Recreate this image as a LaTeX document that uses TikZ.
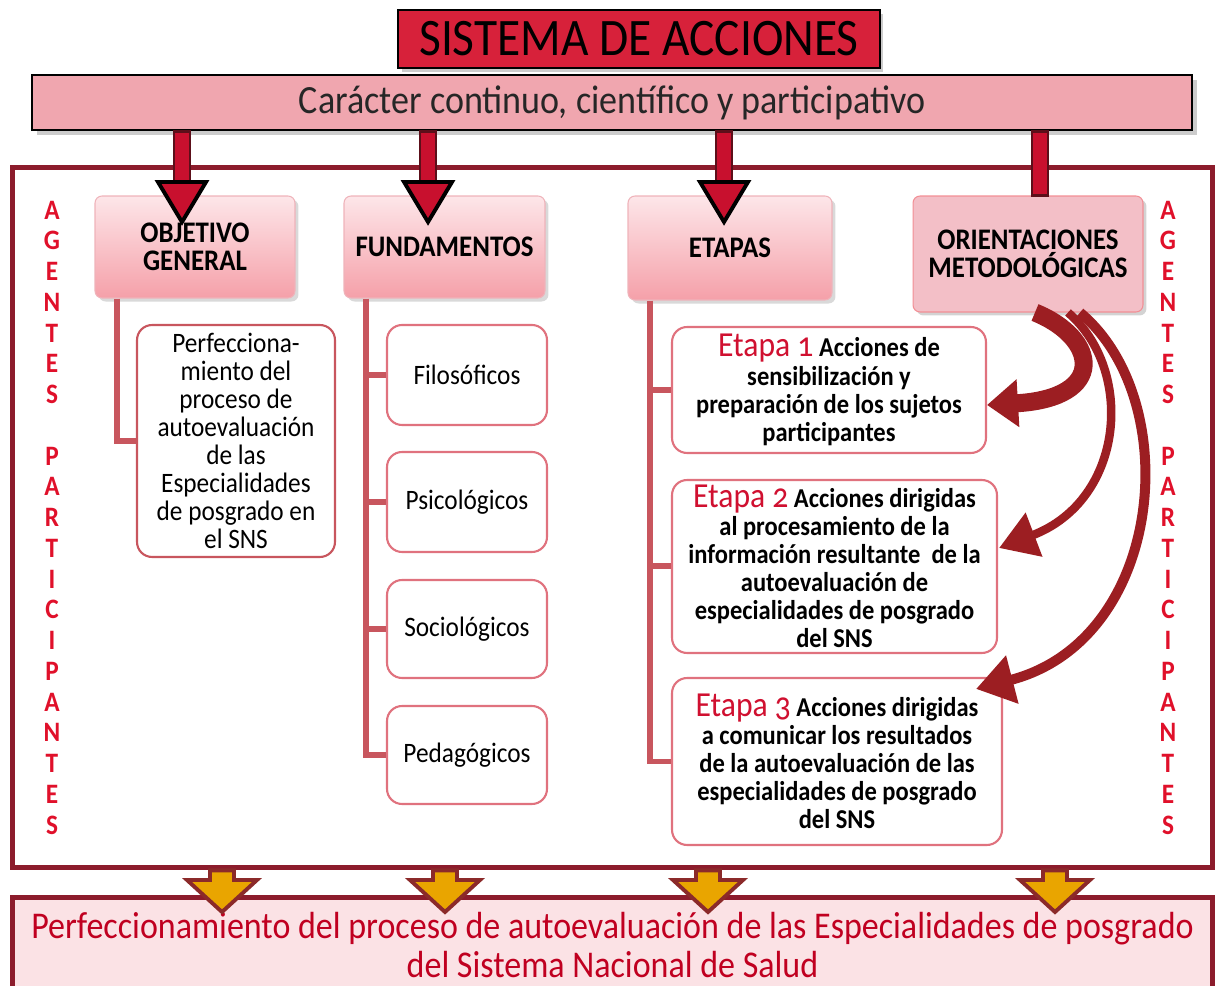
\documentclass[tikz,border=0pt]{standalone}
\usepackage{fontspec}
\setmainfont{Carlito}[FakeStretch=0.9]
\newfontfamily\etpfont{Carlito}[FakeStretch=0.9,Numbers=OldStyle]
\usetikzlibrary{shadows,arrows.meta,calc}
\definecolor{titlered}{HTML}{D7213A}
\definecolor{bandpink}{HTML}{F0A6AF}
\definecolor{maroon}{HTML}{8C1C2C}
\definecolor{hdtop}{HTML}{FDE6E9}
\definecolor{hdbot}{HTML}{F5A0A9}
\definecolor{hdline}{HTML}{EFB3BA}
\definecolor{oripink}{HTML}{F3BFC7}
\definecolor{childline}{HTML}{E0727E}
\definecolor{connred}{HTML}{C8565E}
\definecolor{agred}{HTML}{E0102A}
\definecolor{etred}{HTML}{D01030}
\definecolor{botfill}{HTML}{FBE2E5}
\definecolor{botred}{HTML}{C00020}
\definecolor{curvred}{HTML}{9C1E22}
\definecolor{gold}{HTML}{E9A500}
\definecolor{arrowdark}{HTML}{8B2A2A}
\definecolor{shaftred}{HTML}{C8102E}
\definecolor{shaftedge}{HTML}{5C0F1A}
\newcommand\etlabel[1]{{\etpfont\mdseries\fontsize{20}{16}\selectfont\color{etred}Etapa #1}}
\newcommand\toparrow[2]{%
  \draw[shaft] ($(#1)+(-8,0)$) rectangle ($(#2)+(8,-40)$);
  \draw[tophead] ($(#2)+(-24,-40)$) -- (#2) -- ($(#2)+(24,-40)$) -- cycle;}
\newcommand\botarrow[2]{%
  \draw[botarrow] ($(#1)+(-12,0)$) -- ($(#2)+(-12,-32)$) -- ($(#2)+(-35,-32)$) -- (#2)
     -- ($(#2)+(35,-32)$) -- ($(#2)+(12,-32)$) -- ($(#1)+(12,0)$) -- cycle;}
\begin{document}
\begin{tikzpicture}[x=0.02cm,y=-0.02cm,
  titlebox/.style={fill=titlered,draw=black,line width=1.5pt,inner sep=0pt,
    drop shadow={shadow xshift=2pt,shadow yshift=-2pt,opacity=0.4},
    font=\fontsize{30}{32}\selectfont},
  bandbox/.style={fill=bandpink,draw=black,line width=1.5pt,inner sep=0pt,
    drop shadow={shadow xshift=3pt,shadow yshift=-3pt,opacity=0.4},
    text=black!85,font=\fontsize{22.8}{24}\selectfont},
  headbox/.style={rounded corners=0.14cm,top color=hdtop,bottom color=hdbot,
    draw=hdline,line width=0.6pt,inner sep=0pt,align=center,
    drop shadow={shadow xshift=2pt,shadow yshift=-2pt,opacity=0.3},
    font=\bfseries\fontsize{17}{16}\selectfont},
  oribox/.style={rounded corners=0.14cm,fill=oripink,draw=hdline!80!red,line width=0.6pt,
    inner sep=0pt,align=center,
    drop shadow={shadow xshift=2pt,shadow yshift=-2pt,opacity=0.35},
    font=\bfseries\fontsize{17}{16}\selectfont},
  childbox/.style={rounded corners=0.3cm,fill=white,draw=childline,line width=1.2pt,
    inner sep=0pt,align=center,font=\fontsize{16}{16}\selectfont},
  etbox/.style={childbox,font=\bfseries\fontsize{15.5}{16}\selectfont},
  conn/.style={draw=connred,line width=0.12cm},
  agent/.style={text=agred,font=\bfseries\fontsize{16}{16}\selectfont,inner sep=0pt},
  shaft/.style={fill=shaftred,draw=shaftedge,line width=1.6pt},
  tophead/.style={fill=shaftred,draw=black,line width=2.2pt,line join=miter},
  botarrow/.style={fill=gold,draw=arrowdark,line width=2.2pt,line join=miter},
  curv/.style={draw=curvred,line cap=butt}]
\useasboundingbox (0,0) rectangle (1215,986);

% outer frame
\node[draw=maroon,line width=0.1cm,minimum width=24.02cm,minimum height=14.02cm,inner sep=0pt] (frame) at (612.5,517.5) {};
% bottom result box
\node[fill=botfill,draw=maroon,line width=0.1cm,minimum width=24.02cm,minimum height=1.92cm,inner sep=0pt,
  align=center,text=botred,font=\fontsize{21.5}{22.7}\selectfont] (result) at (612.5,945)
  {Perfeccionamiento del proceso de autoevaluación de las Especialidades de posgrado\\del Sistema Nacional de Salud};

% top
\node[titlebox,minimum width=9.64cm,minimum height=1.16cm] (title) at (639,39) {SISTEMA DE ACCIONES};
\node[bandbox,minimum width=23.2cm,minimum height=1.1cm] (band) at (612,102.5) {Carácter continuo, científico y participativo};

% header boxes
\node[headbox,minimum width=4cm,minimum height=2.04cm] (obj) at (195,247) {OBJETIVO\\GENERAL};
\node[headbox,minimum width=4.02cm,minimum height=2.04cm] (fund) at (444.5,247) {FUNDAMENTOS};
\node[headbox,minimum width=4.08cm,minimum height=2.08cm] (etap) at (730,248) {ETAPAS};
\node[oribox,minimum width=4.6cm,minimum height=2.32cm] (ori) at (1028,254) {ORIENTACIONES\\METODOLÓGICAS};

% children
\node[childbox,draw=connred,minimum width=3.96cm,minimum height=4.64cm] (objc) at (236,441)
  {Perfecciona-\\miento del\\proceso de\\autoevaluación\\de las\\Especialidades\\de posgrado en\\el SNS};
\node[childbox,minimum width=3.2cm,minimum height=2.0cm] (fil) at (467,375) {Filosóficos};
\node[childbox,minimum width=3.2cm,minimum height=2.0cm] (psi) at (467,502) {Psicológicos};
\node[childbox,minimum width=3.2cm,minimum height=1.96cm] (soc) at (467,629) {Sociológicos};
\node[childbox,minimum width=3.2cm,minimum height=1.96cm] (ped) at (467,755) {Pedagógicos};

\node[etbox,minimum width=6.28cm,minimum height=2.52cm] (e1) at (829,390)
  {\etlabel{1} Acciones de\\sensibilización y\\preparación de los sujetos\\participantes};
\node[etbox,minimum width=6.5cm,minimum height=3.46cm] (e2) at (834.5,566.5)
  {\etlabel{2} Acciones dirigidas\\al procesamiento de la\\información resultante~ de la\\autoevaluación de\\especialidades de posgrado\\del SNS};
\node[etbox,minimum width=6.6cm,minimum height=3.34cm] (e3) at (837,761.5)
  {\etlabel{3} Acciones dirigidas\\a comunicar los resultados\\de la autoevaluación de las\\especialidades de posgrado\\del SNS};

% tree connectors
\coordinate (otrunk) at ([xshift=-1.56cm]obj.south);
\draw[conn] (otrunk) |- (objc.west);
\coordinate (ftrunk) at ([xshift=-1.57cm]fund.south);
\draw[conn] (ftrunk) |- (ped.west);
\foreach \c in {fil,psi,soc} \draw[conn] (ftrunk |- \c.west) -- (\c.west);
\coordinate (etrunk) at ([xshift=-1.6cm]etap.south);
\draw[conn] (etrunk) |- (e3.west);
\foreach \c in {e1,e2} \draw[conn] (etrunk |- \c.west) -- (\c.west);

% agentes participantes
\foreach \l [count=\i from 0] in {A,G,E,N,T,E,S,{},P,A,R,T,I,C,I,P,A,N,T,E,S}{
  \node[agent] (agL\i) at (52,210+\i*30.75) {\l};
  \node[agent] (agR\i) at (1168,210+\i*30.75) {\l};
}

% curved arrows from orientaciones to etapas
\coordinate (oa) at ([xshift=0.14cm]ori.south);
\coordinate (ob) at ([xshift=0.8cm]ori.south);
\coordinate (oc) at ([xshift=1.04cm]ori.south);
\draw[curv,line width=0.36cm,-{Triangle[length=0.62cm,width=0.92cm]}]
  (oa) .. controls (1098,338) and (1108,398) .. ([yshift=-0.3cm]e1.east);
\draw[curv,line width=0.17cm,-{Triangle[length=0.75cm,width=0.9cm]}]
  (ob) .. controls (1135,370) and (1125,500) .. ([xshift=0.02cm,yshift=0.37cm]e2.east);
\draw[curv,line width=0.2cm,-{Triangle[length=0.75cm,width=0.95cm]}]
  (oc) .. controls (1185,400) and (1165,640) .. ([xshift=-0.54cm,yshift=-0.24cm]e3.north east);

% top arrows
\coordinate (t1s) at (182,0 |- band.south);
\coordinate (t1e) at (182,222);
\coordinate (t2s) at (428,0 |- band.south);
\coordinate (t2e) at (428,222);
\coordinate (t3s) at (724,0 |- band.south);
\coordinate (t3e) at (724,222);
\toparrow{t1s}{t1e}
\toparrow{t2s}{t2e}
\toparrow{t3s}{t3e}
\coordinate (t4s) at (1040,0 |- band.south);
\coordinate (t4e) at (1040,0 |- ori.north);
\draw[shaft] ($(t4s)+(-8,0)$) rectangle ($(t4e)+(8,0)$);

% bottom arrows
\foreach \x [count=\i] in {222,445,708,1055}{
  \coordinate (b\i s) at (\x,0 |- frame.south);
  \coordinate (b\i e) at (\x,912);
}
\botarrow{b1s}{b1e}
\botarrow{b2s}{b2e}
\botarrow{b3s}{b3e}
\botarrow{b4s}{b4e}
\end{tikzpicture}
\end{document}
